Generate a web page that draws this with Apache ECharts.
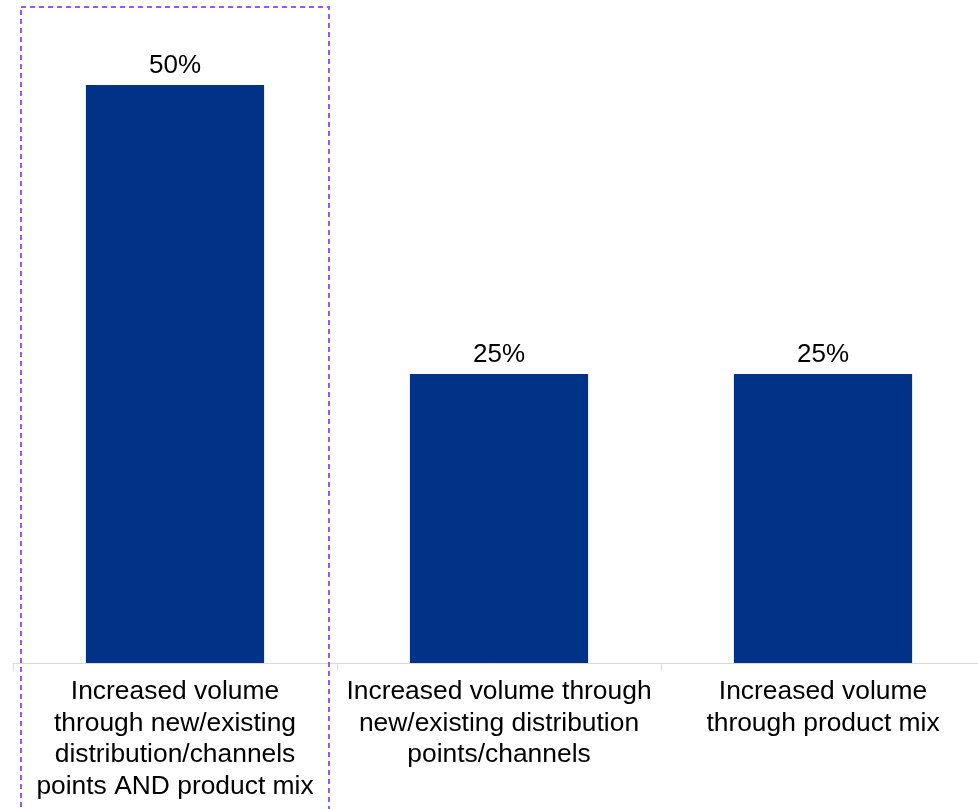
<!DOCTYPE html>
<html>
<head>
<meta charset="utf-8">
<script src="https://cdn.jsdelivr.net/npm/echarts@6/dist/echarts.min.js"></script>
<style>
html,body{margin:0;padding:0;background:#fff;}
#c{width:978px;height:809px;}
</style>
</head>
<body>
<div id="c"></div>
<script>
const categories = [
  "Increased volume\nthrough new/existing\ndistribution/channels\npoints AND product mix",
  "Increased volume through\nnew/existing distribution\npoints/channels",
  "Increased volume\nthrough product mix"
];
const values = [50, 25, 25];

const chart = echarts.init(document.getElementById('c'), null, {renderer: 'canvas'});
chart.setOption({
  animation: false,
  backgroundColor: '#ffffff',
  textStyle: {fontFamily: 'Liberation Sans, Arial, sans-serif'},
  grid: {left: 13, width: 972, top: 85, bottom: 146, containLabel: false, outerBoundsMode: 'none'},
  xAxis: {
    type: 'category',
    data: categories,
    boundaryGap: true,
    axisLine: {show: true, lineStyle: {color: '#d9d9d9', width: 1}},
    axisTick: {show: true, length: 8, lineStyle: {color: '#d9d9d9'}},
    axisLabel: {
      interval: 0,
      margin: 13,
      color: '#000000',
      fontSize: 26.4,
      lineHeight: 31.5,
      fontFamily: 'Liberation Sans, Arial, sans-serif',
      align: 'center'
    }
  },
  yAxis: {
    type: 'value',
    min: 0,
    max: 50,
    show: false,
    splitLine: {show: false}
  },
  series: [{
    type: 'bar',
    data: values,
    barWidth: '55%',
    itemStyle: {color: '#003388'},
    label: {
      show: true,
      position: 'top',
      distance: 6,
      formatter: p => p.value + '%',
      color: '#000000',
      fontSize: 26,
      fontFamily: 'Liberation Sans, Arial, sans-serif'
    }
  }],
  graphic: [{
    type: 'rect',
    shape: {x: 21, y: 7, width: 308, height: 830},
    style: {fill: 'none', stroke: '#9a55f2', lineWidth: 2, lineDash: [5, 4]},
    silent: true,
    z: 100
  }]
});
</script>
</body>
</html>
